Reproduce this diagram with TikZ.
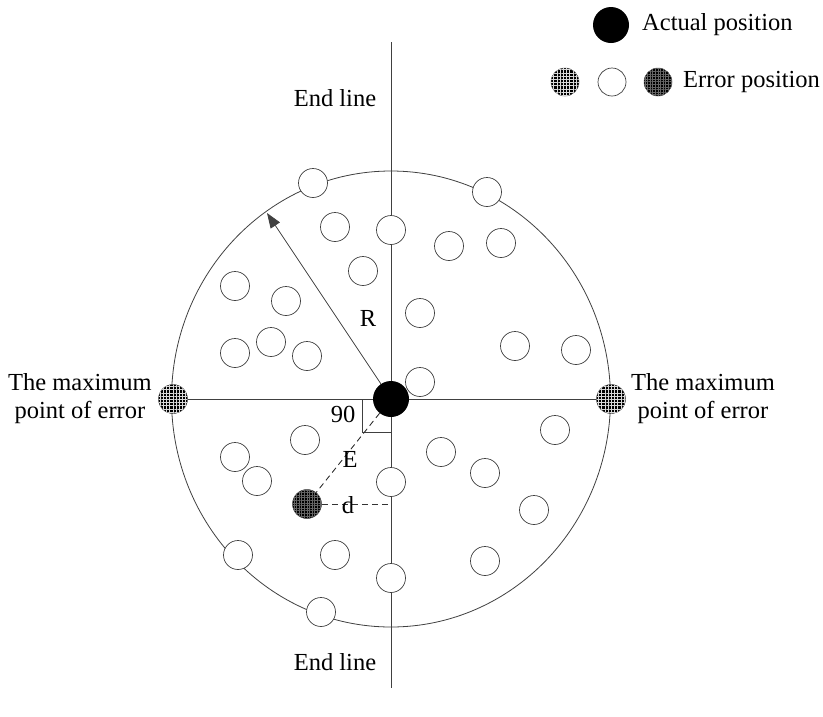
\documentclass[tikz,border=0pt]{standalone}
\usepackage{fontspec}
\setmainfont{Liberation Serif}
\usetikzlibrary{patterns.meta,arrows.meta}
\begin{document}
\begin{tikzpicture}[x=1pt,y=-1pt,
  axisline/.style={draw=black!75, line width=0.8pt},
  dot/.style={circle, draw=black!75, line width=0.7pt, fill=white, minimum size=29pt, inner sep=0pt},
  actual/.style={circle, fill=black, minimum size=36pt, inner sep=0pt},
  lighthatch/.style={circle, draw=black!70, line width=0.5pt, fill=black, minimum size=29pt, inner sep=0pt,
     postaction={pattern={Hatch[angle=0,distance=3.2pt,line width=0.4pt]}, pattern color=white!85!black}},
  darkhatch/.style={circle, draw=black!70, line width=0.5pt, fill=black, minimum size=29pt, inner sep=0pt,
     postaction={pattern={Hatch[angle=0,distance=2.6pt,line width=0.3pt]}, pattern color=black!60}},
  lbl/.style={font=\fontsize{24.5}{28}\selectfont, align=center, inner sep=0pt},
  dashline/.style={draw=black!80, line width=0.9pt, dash pattern=on 6pt off 4pt}
]
\useasboundingbox (0,0) rectangle (823,716);

% axes and circle
\coordinate (vt) at (391,42);
\coordinate (vb) at (391,688);
\coordinate (hl) at (172,399);
\coordinate (hr) at (611,399);
\draw[axisline] (vt) -- (vb);
\draw[axisline] (hl) -- (hr);
\draw[axisline] (391,399) ellipse [x radius=219.5pt, y radius=228pt];

% right-angle marker
\coordinate (ra1) at (362,399);
\coordinate (ra2) at (362,432);
\coordinate (ra3) at (391,432);
\draw[axisline] (ra1) -- (ra2) -- (ra3);

% white error positions
\foreach \i/\x/\y in {1/313/183, 2/487/192, 3/335/227, 4/391/230, 5/449/246, 6/501/243,
  7/363/271, 8/235/286, 9/286/301, 10/420/313, 11/271/342, 12/235/353, 13/307/356,
  14/515/346, 15/576/350, 16/420/382, 17/555/430, 18/305/440, 19/441/452, 20/235/457,
  21/485/473, 22/257/481, 23/391/482, 24/534/510, 25/335/555, 26/238/555, 27/485/561,
  28/391/578, 29/321/612}
  \node[dot] (w\i) at (\x,\y) {};

% max error points
\node[lighthatch] (maxl) at (173,399) {};
\node[lighthatch] (maxr) at (611,399) {};

% d point
\node[darkhatch] (dp) at (307,504) {};
\coordinate (daxis) at (391,504);
\coordinate (rtip) at (267,213);

% actual position
\node[actual] (act) at (391,399) {};

% connectors
\draw[axisline, -{Triangle[length=15pt,width=11pt]}] (act) -- (rtip);
\draw[dashline] (act) -- (dp);
\draw[dashline] (dp) -- (daxis);

% labels
\node[lbl] (lr) at (368,318) {R};
\node[lbl] (l90) at (343,414) {90};
\node[lbl] (le) at (350,459) {E};
\node[lbl] (ld) at (348,505) {d};
\node[lbl] (endt) at (335,98) {End line};
\node[lbl] (endb) at (335,662) {End line};
\node[lbl] (maxlt) at (80,399) {The maximum\\point of error};
\node[lbl] (maxrt) at (703,399) {The maximum\\point of error};

% legend
\node[actual] (lgA) at (611,25) {};
\node[lbl, anchor=west] (lgAt) at (642,25) {Actual position};
\node[lighthatch, minimum size=28pt] (lg1) at (565,82) {};
\node[dot, minimum size=28pt] (lg2) at (612,82) {};
\node[darkhatch, minimum size=28pt] (lg3) at (658,82) {};
\node[lbl, anchor=west] (lgEt) at (683,82) {Error position};
\end{tikzpicture}
\end{document}
